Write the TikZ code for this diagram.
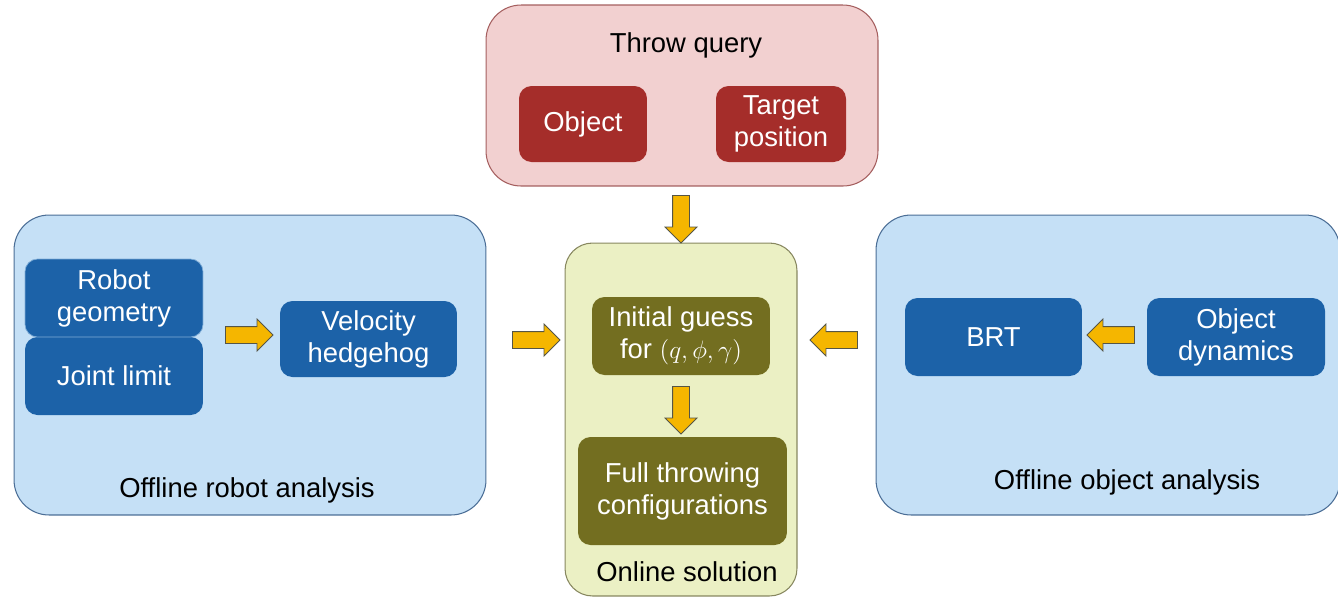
\documentclass[tikz,border=0pt]{standalone}
\usepackage{fontspec}
\setmainfont{Liberation Sans}
\usetikzlibrary{shapes.arrows}

\definecolor{queryfill}{RGB}{242,208,208}
\definecolor{queryline}{RGB}{165,95,95}
\definecolor{querydark}{RGB}{165,45,42}
\definecolor{bluefill}{RGB}{197,224,246}
\definecolor{blueline}{RGB}{75,110,150}
\definecolor{bluedark}{RGB}{28,98,168}
\definecolor{greenfill}{RGB}{235,240,196}
\definecolor{greenline}{RGB}{135,135,95}
\definecolor{olivedark}{RGB}{115,110,32}
\definecolor{arrowfill}{RGB}{245,182,0}
\definecolor{arrowline}{RGB}{85,85,70}

\tikzset{
  panel/.style={draw=#1, line width=0.6pt, rounded corners=0.7cm, inner sep=0pt},
  innerbox/.style={fill=#1, rounded corners=0.25cm, text=white, align=center, inner sep=0pt},
  yarrow/.style={single arrow, draw=arrowline, fill=arrowfill, line width=0.5pt,
    inner sep=0.16cm, single arrow head extend=0.15cm, minimum height=0.95cm},
}

\begin{document}
\begin{tikzpicture}[x=0.02cm,y=-0.02cm,font=\fontsize{15.6}{18.2}\selectfont]
	\useasboundingbox (0,0) rectangle (1338,600);

	%panels
	\node[panel=queryline, fill=queryfill, minimum width=7.84cm, minimum height=3.62cm] (querypanel) at (682,95.5) {};
	\node[panel=blueline, fill=bluefill, minimum width=9.44cm, minimum height=6cm] (robotpanel) at (250,365) {};
	\node[panel=greenline, fill=greenfill, rounded corners=0.55cm, minimum width=4.64cm, minimum height=7.06cm] (onlinepanel) at (681,419.5) {};
	\node[panel=blueline, fill=bluefill, minimum width=9.28cm, minimum height=6cm] (objectpanel) at (1108,365) {};

	%panel titles
	\node (querytitle) at (686,45) {Throw query};
	\node (robottitle) at (247,490) {Offline robot analysis};
	\node (onlinetitle) at (687,572) {Online solution};
	\node (objecttitle) at (1127,482) {Offline object analysis};

	%throw query
	\node[innerbox=querydark, minimum width=2.56cm, minimum height=1.52cm] (object) at (583,124) {Object};
	\node[innerbox=querydark, minimum width=2.6cm, minimum height=1.52cm] (target) at (781,124) {Target\\position};

	%robot analysis
	\node[innerbox=bluedark, minimum width=3.56cm, minimum height=1.56cm] (joint) at (114,376) {Joint limit};
	\node[innerbox=bluedark, draw=bluefill!60!bluedark, line width=0.4pt, minimum width=3.56cm, minimum height=1.56cm] (geometry) at (114,298) {Robot\\geometry};
	\node[innerbox=bluedark, minimum width=3.54cm, minimum height=1.52cm] (hedgehog) at (368.5,339) {Velocity\\hedgehog};

	%online solution
	\node[innerbox=olivedark, minimum width=3.56cm, minimum height=1.56cm] (guess) at (681,336) {Initial guess\\for $(q,\phi,\gamma)$};
	\node[innerbox=olivedark, minimum width=4.18cm, minimum height=2.16cm] (full) at (682.5,491) {Full throwing\\configurations};

	%object analysis
	\node[innerbox=bluedark, minimum width=3.54cm, minimum height=1.56cm] (brt) at (993.5,337) {BRT};
	\node[innerbox=bluedark, minimum width=3.56cm, minimum height=1.56cm] (dynamics) at (1236,337) {Object\\dynamics};

	%block arrows
	\node[yarrow, rotate=-90] (querytoonline) at (681,215) {};
	\node[yarrow, rotate=-90] (guesstofull) at (681,406) {};
	\node[yarrow] (geometrytohedgehog) at (245,335) {};
	\node[yarrow] (robottoonline) at (532,340) {};
	\node[yarrow, rotate=180] (objecttoonline) at (838,340) {};
	\node[yarrow, rotate=180] (dynamicstobrt) at (1115,335) {};
\end{tikzpicture}
\end{document}
